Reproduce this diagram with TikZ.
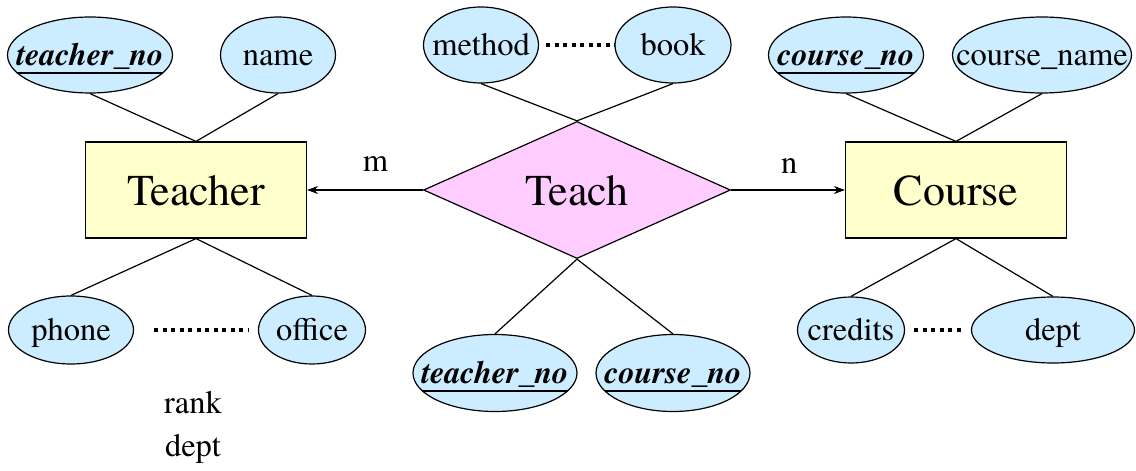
\documentclass[tikz,border=0pt]{standalone}
\usepackage{fontspec}
\setmainfont{texgyretermes}[Extension=.otf, UprightFont=*-regular,
    BoldFont=*-bold, ItalicFont=*-italic, BoldItalicFont=*-bolditalic]
\usetikzlibrary{shapes.geometric,arrows.meta}

\definecolor{attrblue}{HTML}{CCECFF}
\definecolor{entyellow}{HTML}{FFFFCC}
\definecolor{relpink}{HTML}{FFCCFF}

\begin{document}
\begin{tikzpicture}[x=1pt,y=-1pt,line width=1.2pt,>={Stealth[length=11pt,width=8pt]},
    entity/.style={draw, fill=entyellow, minimum width=221pt, minimum height=96pt,
        inner sep=0pt, text height=32pt, text depth=2pt, font=\fontsize{44}{52}\selectfont},
    relation/.style={diamond, draw, fill=relpink, minimum width=307pt,
        minimum height=134pt, inner sep=0pt, text height=32pt, text depth=2pt,
        font=\fontsize{44}{52}\selectfont},
    attr/.style={ellipse, draw, fill=attrblue, inner sep=0pt, minimum height=76pt,
        text height=22pt, text depth=2pt, font=\fontsize{32.5}{38}\selectfont,
        execute at begin node={\hbox to 0pt\bgroup\hss},
        execute at end node={\hss\egroup}},
    key/.style={attr, font=\fontsize{32}{38}\selectfont\bfseries\itshape,
        path picture={\draw ([yshift=-18pt]path picture bounding box.west)
            -- ([yshift=-18pt]path picture bounding box.east);}},
    etc/.style={line width=4pt, dash pattern=on 4pt off 4.5pt}]
    \useasboundingbox (0,0) rectangle (1136,471);

    % Entidades y relacion
    \node[entity] (teacher) at (196,190) {Teacher};
    \node[relation] (teach) at (577,190) {Teach};
    \node[entity] (course) at (956,190) {Course};

    % Atributos de Teacher
    \node[key, minimum width=165pt] (tno) at (90,55) {teacher\_no};
    \node[attr, minimum width=115pt] (tname) at (278,55) {name};
    \node[attr, minimum width=125pt, minimum height=68pt] (phone) at (71,330) {phone};
    \node[attr, minimum width=107pt, minimum height=68pt] (office) at (312,330) {office};
    \node[align=center, font=\fontsize{32.5}{43}\selectfont] (more) at (193,427) {rank\\dept};

    % Atributos de Teach
    \node[attr, minimum width=115pt] (method) at (481,45) {method};
    \node[attr, minimum width=116pt] (book) at (673,45) {book};
    \node[key, minimum width=164pt, minimum height=77pt] (ttno) at (495,373) {teacher\_no};
    \node[key, minimum width=154pt, minimum height=77pt] (tcno) at (673,373) {course\_no};

    % Atributos de Course
    \node[key, minimum width=155pt] (cno) at (846,55) {course\_no};
    \node[attr, minimum width=179pt] (cname) at (1042,55) {course\_name};
    \node[attr, minimum width=107pt, minimum height=66pt] (credits) at (851,330) {credits};
    \node[attr, minimum width=163pt, minimum height=66pt] (cdept) at (1053,330) {dept};

    % Lineas a los atributos
    \draw (tno.south) -- (teacher.north) -- (tname.south);
    \draw (phone.north) -- (teacher.south) -- (office.north);
    \draw (method.south) -- (teach.north) -- (book.south);
    \draw (ttno.north) -- (teach.south) -- (tcno.north);
    \draw (cno.south) -- (course.north) -- (cname.south);
    \draw (credits.north) -- (course.south) -- (cdept.north);

    % Puntos suspensivos
    \draw[etc, shorten <=7pt] (method) -- (book);
    \draw[etc, shorten <=20pt, shorten >=9pt] (phone) -- (office);
    \draw[etc, shorten <=9pt, shorten >=10pt] (credits) -- (cdept);

    % Cardinalidades
    \draw[->] (teach.west) -- (teacher.east)
        node[pos=0.41, above=15pt, font=\fontsize{32.5}{38}\selectfont] {m};
    \draw[->] (teach.east) -- (course.west)
        node[pos=0.51, above=13pt, font=\fontsize{32.5}{38}\selectfont] {n};
\end{tikzpicture}
\end{document}
